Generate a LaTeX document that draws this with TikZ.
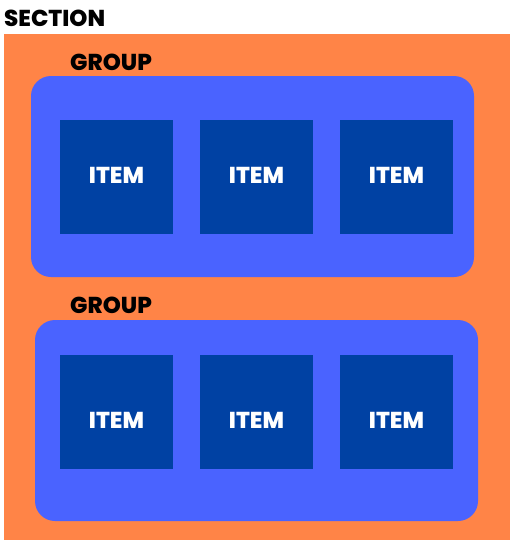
\documentclass[tikz,border=0pt]{standalone}
\usepackage{fontspec}
\setmainfont{Poppins}[BoldFont={* ExtraBold}]
\definecolor{secorange}{HTML}{FF8447}
\definecolor{grpblue}{HTML}{4A63FF}
\definecolor{itemblue}{HTML}{0041A3}
\begin{document}
\begin{tikzpicture}[x=1pt,y=-1pt,
  lbl/.style={font=\bfseries\fontsize{23}{25}\selectfont, inner sep=0pt, anchor=base west},
  itembox/.style={fill=itemblue, minimum width=113pt, minimum height=114pt, inner sep=0pt},
  itemtext/.style={text=white, inner sep=0pt, anchor=base, font=\bfseries\fontsize{23}{25}\selectfont},
  groupbox/.style={fill=grpblue, rounded corners=20pt}]
\useasboundingbox (0,0) rectangle (516,546);
\fill[secorange] (4,34) rectangle (510,540);
\node[lbl] (sec) at (4,27) {SECTION};
\fill[groupbox] (31,76) rectangle (474,277);
\node[lbl] (g1) at (70,70) {GROUP};
\fill[groupbox] (35,320) rectangle (478,521);
\node[lbl] (g2) at (70,313) {GROUP};
\foreach \x [count=\i] in {116.5,256.5,396.5}{
  \node[itembox] (a\i) at (\x,177) {};
  \node[itemtext] (ta\i) at (\x,183.3) {ITEM};
  \node[itembox] (b\i) at (\x,411.7) {};
  \node[itemtext] (tb\i) at (\x,428.3) {ITEM};
}
\end{tikzpicture}
\end{document}
